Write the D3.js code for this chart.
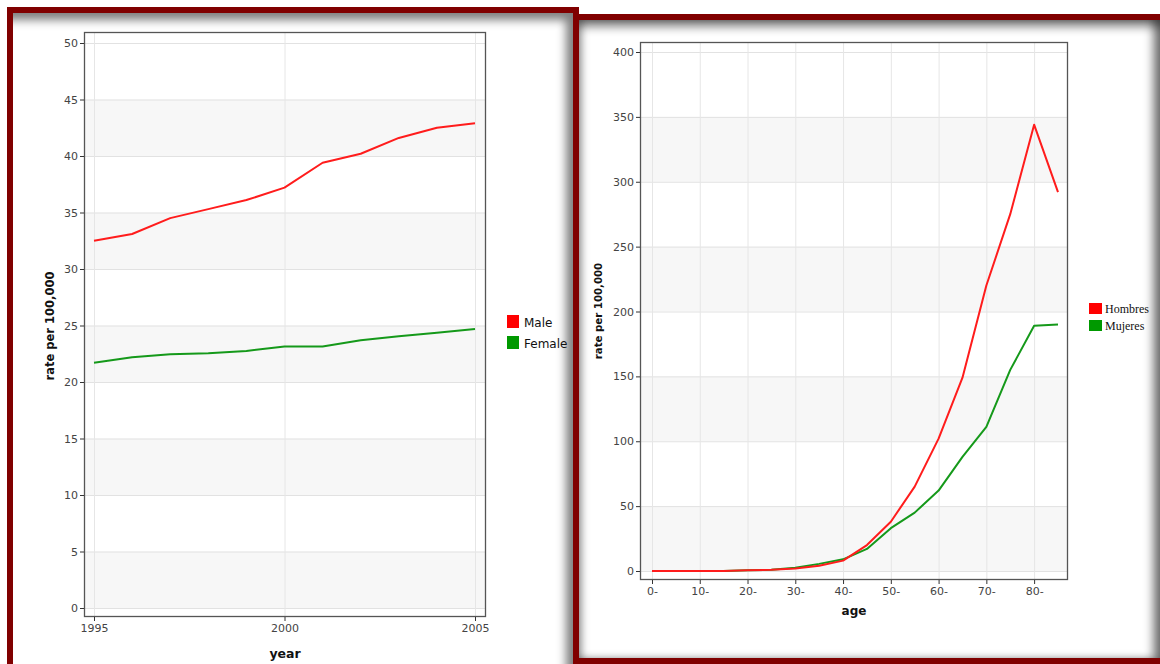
<!DOCTYPE html>
<html>
<head>
<meta charset="utf-8">
<script src="https://cdn.jsdelivr.net/npm/d3@7"></script>
<style>
  html, body { margin: 0; padding: 0; background: #fff; }
  body { width: 1160px; height: 664px; position: relative; overflow: hidden; }
  .panel { position: absolute; box-sizing: border-box; background: #fff; border: 6px solid #800000; }
  #panelA { left: 7px; top: 7px; width: 572px; height: 700px;
            box-shadow: inset -9px 9px 10px -2px rgba(0,0,0,0.5); }
  #panelB { left: 573px; top: 14px; width: 594px; height: 650px;
            box-shadow: inset 0 9px 10px -2px rgba(0,0,0,0.45), inset -10px 0 10px -2px rgba(0,0,0,0.5), inset 6px 0 8px -3px rgba(0,0,0,0.3); }
  svg { position: absolute; left: 0; top: 0; }
</style>
</head>
<body>
<div class="panel" id="panelA"></div>
<div class="panel" id="panelB"></div>
<svg id="chart" width="1160" height="664"></svg>
<script>
// Trend by year
const years = [1995, 1996, 1997, 1998, 1999, 2000, 2001, 2002, 2003, 2004, 2005];
const maleRate = [32.5, 33.1, 34.5, 35.3, 36.1, 37.2, 39.4, 40.2, 41.6, 42.5, 42.9];
const femaleRate = [21.7, 22.2, 22.45, 22.55, 22.75, 23.15, 23.15, 23.7, 24.05, 24.35, 24.7];
const yearTicks = [1995, 2000, 2005];
const rateTicksA = [0, 5, 10, 15, 20, 25, 30, 35, 40, 45, 50];
const legendA = ["Male", "Female"];

// Rate by age group
const ageGroups = ["0-", "5-", "10-", "15-", "20-", "25-", "30-", "35-", "40-", "45-",
                   "50-", "55-", "60-", "65-", "70-", "75-", "80-", "85-"];
const ageTicks = ["0-", "10-", "20-", "30-", "40-", "50-", "60-", "70-", "80-"];
const hombres = [0, 0, 0, 0, 0.5, 1, 2, 4, 8, 20, 38, 65, 102, 149, 220, 275, 344, 292];
const mujeres = [0, 0, 0, 0, 0.5, 1, 2.5, 5.5, 9, 17, 33, 45, 62, 88, 111, 155, 189, 190];
const rateTicksB = [0, 50, 100, 150, 200, 250, 300, 350, 400];
const legendB = ["Hombres", "Mujeres"];

const RED = "#ff0000", GREEN = "#009900";
const LINE_RED = "#ff1c1c", LINE_GREEN = "#15991a";
const svg = d3.select("#chart");
const sans = "'DejaVu Sans', Verdana, sans-serif";

function stripes(g, y, ticks, x0, x1) {
  // alternate light bands, starting with the lowest band shaded
  for (let i = 0; i < ticks.length - 1; i += 2) {
    g.append("rect")
      .attr("x", x0).attr("width", x1 - x0)
      .attr("y", y(ticks[i + 1])).attr("height", y(ticks[i]) - y(ticks[i + 1]))
      .attr("fill", "#f7f7f7");
  }
}

function drawPanel(cfg) {
  const g = svg.append("g");
  const { x, y, fx0, fx1, fy0, fy1 } = cfg;
  g.append("rect").attr("x", fx0).attr("y", fy0)
    .attr("width", fx1 - fx0).attr("height", fy1 - fy0).attr("fill", "#fff");
  stripes(g, y, cfg.yTicks, fx0, fx1);
  // grid
  g.selectAll(".hg").data(cfg.yTicks).join("line")
    .attr("x1", fx0).attr("x2", fx1)
    .attr("y1", d => y(d) + 0.5).attr("y2", d => y(d) + 0.5)
    .attr("stroke", "#e2e2e2").attr("stroke-width", 1);
  g.selectAll(".vg").data(cfg.xTicks).join("line")
    .attr("x1", d => x(d) + 0.5).attr("x2", d => x(d) + 0.5)
    .attr("y1", fy0).attr("y2", fy1)
    .attr("stroke", "#e6e6e6").attr("stroke-width", 1);
  // series
  const line = d3.line().x(d => x(d[0])).y(d => y(d[1]));
  cfg.series.forEach(s => {
    g.append("path")
      .attr("d", line(cfg.xs.map((v, i) => [v, s.values[i]])))
      .attr("fill", "none").attr("stroke", s.color)
      .attr("stroke-width", 2).attr("stroke-linejoin", "round");
  });
  // frame
  g.append("rect").attr("x", fx0 + 0.5).attr("y", fy0 + 0.5)
    .attr("width", fx1 - fx0 - 1).attr("height", fy1 - fy0 - 1)
    .attr("fill", "none").attr("stroke", "#555").attr("stroke-width", 1.3);
  // axes
  const ax = g.append("g").attr("transform", `translate(0,${fy1})`)
    .call(d3.axisBottom(x).tickValues(cfg.xTicks).tickSize(4).tickPadding(3)
      .tickFormat(cfg.xFormat || (d => d)));
  const ay = g.append("g").attr("transform", `translate(${fx0},0)`)
    .call(d3.axisLeft(y).tickValues(cfg.yTicks).tickSize(4).tickPadding(2));
  [ax, ay].forEach(a => {
    a.select(".domain").remove();
    a.selectAll("line").attr("stroke", "#333");
    a.selectAll("text").attr("fill", "#444")
      .style("font-family", sans).style("font-size", "11px");
  });
  // titles
  g.append("text").attr("x", (fx0 + fx1) / 2).attr("y", cfg.xTitleY)
    .attr("text-anchor", "middle").style("font-family", sans)
    .style("font-size", cfg.xTitleSize).style("font-weight", "bold")
    .attr("fill", "#111").text(cfg.xTitle);
  g.append("text")
    .attr("transform", `translate(${cfg.yTitleX},${cfg.yTitleMid}) rotate(-90)`)
    .attr("text-anchor", "middle").style("font-family", sans)
    .style("font-size", cfg.titleSize).style("font-weight", "bold")
    .attr("fill", "#111").text(cfg.yTitle);
  // legend
  const lg = g.append("g").attr("transform", `translate(${cfg.legX},${cfg.legY})`);
  cfg.legend.forEach((name, i) => {
    const row = lg.append("g").attr("transform", `translate(0,${i * cfg.legStep})`);
    row.append("rect").attr("width", cfg.keyW).attr("height", cfg.keyH)
      .attr("fill", i === 0 ? RED : GREEN);
    row.append("text").attr("x", cfg.keyW + cfg.legGap).attr("y", cfg.keyH - 1)
      .style("font-family", cfg.legFont).style("font-size", cfg.legSize)
      .attr("fill", "#111").text(name);
  });
}

// Panel A: rate by year
drawPanel({
  x: d3.scaleLinear().domain([1995, 2005]).range([94, 475]),
  y: d3.scaleLinear().domain([0, 50]).range([608, 43]),
  fx0: 84, fx1: 486, fy0: 32, fy1: 617,
  xs: years, xTicks: yearTicks, yTicks: rateTicksA,
  series: [{ values: maleRate, color: LINE_RED }, { values: femaleRate, color: LINE_GREEN }],
  xTitle: "year", xTitleY: 658, xTitleSize: "12.5px",
  yTitle: "rate per 100,000", yTitleX: 54, yTitleMid: 326, titleSize: "11.5px",
  legend: legendA, legX: 507, legY: 315, legStep: 21, keyW: 12, keyH: 13, legGap: 5,
  legFont: sans, legSize: "12px"
});

// Panel B: rate by age group
drawPanel({
  x: d3.scalePoint().domain(ageGroups).range([652, 1058]),
  y: d3.scaleLinear().domain([0, 400]).range([571, 52]),
  fx0: 640, fx1: 1068, fy0: 42, fy1: 580,
  xs: ageGroups, xTicks: ageTicks, yTicks: rateTicksB,
  series: [{ values: mujeres, color: LINE_GREEN }, { values: hombres, color: LINE_RED }],
  xTitle: "age", xTitleY: 615, xTitleSize: "12px",
  yTitle: "rate per 100,000", yTitleX: 602, yTitleMid: 311, titleSize: "10.2px",
  legend: legendB, legX: 1089, legY: 303, legStep: 17, keyW: 13, keyH: 11, legGap: 3,
  legFont: "'Liberation Serif', 'Times New Roman', serif", legSize: "12px"
});
</script>
</body>
</html>
